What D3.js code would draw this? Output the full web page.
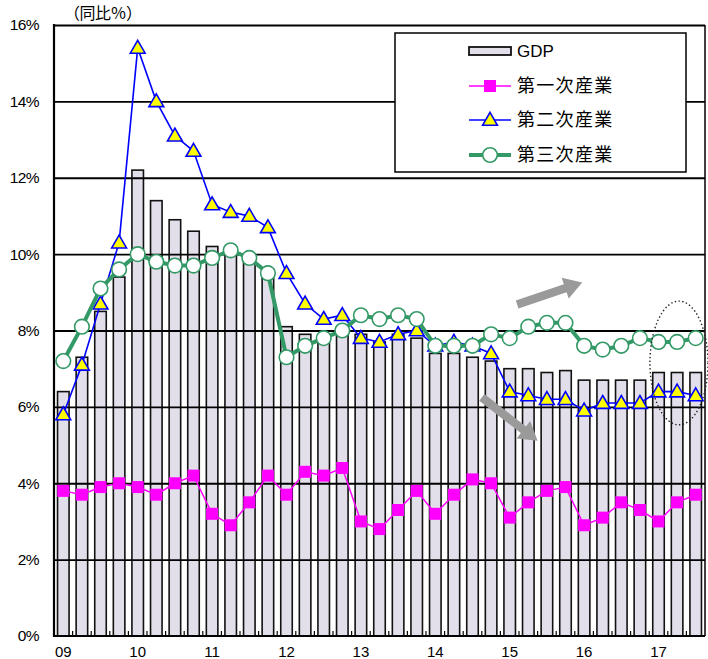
<!DOCTYPE html>
<html><head><meta charset="utf-8">
<script src="https://cdn.jsdelivr.net/npm/d3@7"></script>
<style>body{margin:0;background:#fff;overflow:hidden}</style>
</head><body><svg id="c" width="708" height="659"></svg>
<script>
const categories = ["09Q1","09Q2","09Q3","09Q4","10Q1","10Q2","10Q3","10Q4","11Q1","11Q2","11Q3","11Q4",
  "12Q1","12Q2","12Q3","12Q4","13Q1","13Q2","13Q3","13Q4","14Q1","14Q2","14Q3","14Q4",
  "15Q1","15Q2","15Q3","15Q4","16Q1","16Q2","16Q3","16Q4","17Q1","17Q2","17Q3"];
const yearTicks = ["09Q1","10Q1","11Q1","12Q1","13Q1","14Q1","15Q1","16Q1","17Q1"];
const yearLabels = ["09","10","11","12","13","14","15","16","17"];
const yTicks = [0,2,4,6,8,10,12,14,16];
const gdp = [6.4,7.3,8.5,9.4, 12.2,11.4,10.9,10.6, 10.2,10.1,10.0,9.6, 8.1,7.9,7.8,7.9, 7.9,7.7,7.9,7.8, 7.4,7.4,7.3,7.2, 7.0,7.0,6.9,6.95, 6.7,6.7,6.7,6.7, 6.9,6.9,6.9];
const primary = [3.8,3.7,3.9,4.0, 3.9,3.7,4.0,4.2, 3.2,2.9,3.5,4.2, 3.7,4.3,4.2,4.4, 3.0,2.8,3.3,3.8, 3.2,3.7,4.1,4.0, 3.1,3.5,3.8,3.9, 2.9,3.1,3.5,3.3, 3.0,3.5,3.7];
const secondary = [5.8,7.1,8.7,10.3, 15.4,14.0,13.1,12.7, 11.3,11.1,11.0,10.7, 9.5,8.7,8.3,8.4, 7.8,7.7,7.9,8.0, 7.6,7.7,7.6,7.4, 6.4,6.3,6.2,6.2, 5.9,6.1,6.1,6.1, 6.4,6.4,6.3];
const tertiary = [7.2,8.1,9.1,9.6, 10.0,9.8,9.7,9.7, 9.9,10.1,9.9,9.5, 7.3,7.6,7.8,8.0, 8.4,8.3,8.4,8.3, 7.6,7.6,7.6,7.9, 7.8,8.1,8.2,8.2, 7.6,7.5,7.6,7.8, 7.7,7.7,7.8];
const seriesNames = ["GDP","第一次産業","第二次産業","第三次産業"];
const unitLabel = ["（","同","比","％","）"];

const svg = d3.select("#c");
const L = 54, R = 705, T = 25, B = 636;
const x = d3.scaleBand().domain(categories).range([L, R]).paddingInner(0.38).paddingOuter(0.19);
const y = d3.scaleLinear().domain([0, 16]).range([B, T]);
const cx = c => x(c) + x.bandwidth() / 2;
const xi = i => L + x.step() * (i + 0.5);

const BAR = "#e3dfea", PINK = "#ff00ff", BLUE = "#0000ff", YEL = "#ffff00", GREEN = "#339966";
const numFont = "'Liberation Sans', Arial, sans-serif";
const cjkFont = "'Noto Sans CJK JP', 'Noto Sans', sans-serif";

// bars
svg.append("g").selectAll("rect").data(gdp).join("rect")
  .attr("x", (d, i) => x(categories[i]))
  .attr("y", d => y(d))
  .attr("width", x.bandwidth())
  .attr("height", d => y(0) - y(d))
  .attr("fill", BAR).attr("stroke", "#111").attr("stroke-width", 1.6);

// gridlines (drawn over bars as in reference)
svg.append("g").attr("transform", `translate(${L},0)`)
  .call(d3.axisRight(y).tickValues(yTicks.filter(v => v > 0)).tickSize(R - L).tickFormat(""))
  .call(g => g.select(".domain").remove())
  .call(g => g.selectAll("line").attr("stroke", "#000").attr("stroke-width", 1.8));

// frame
svg.append("line").attr("x1", R).attr("x2", R).attr("y1", T).attr("y2", B).attr("stroke", "#000").attr("stroke-width", 1.5);
svg.append("line").attr("x1", L).attr("x2", L).attr("y1", T - 1).attr("y2", B + 1).attr("stroke", "#000").attr("stroke-width", 2.2);
svg.append("line").attr("x1", L).attr("x2", R).attr("y1", B).attr("y2", B).attr("stroke", "#000").attr("stroke-width", 2.2);

// small category ticks at band boundaries
svg.append("g").selectAll("line").data(d3.range(1, categories.length)).join("line")
  .attr("x1", i => L + x.step() * i).attr("x2", i => L + x.step() * i)
  .attr("y1", B).attr("y2", B - 5).attr("stroke", "#000").attr("stroke-width", 1.2);

// y-axis labels
svg.append("g").attr("transform", `translate(${L},0)`)
  .call(d3.axisLeft(y).tickValues(yTicks).tickSize(0).tickPadding(15).tickFormat(d => d + "%"))
  .call(g => g.select(".domain").remove())
  .call(g => g.selectAll("text").attr("font-family", numFont).attr("font-size", 15.5)
      .attr("letter-spacing", "-0.6px").attr("fill", "#000"));

// x-axis year labels (kept fully inside the canvas)
svg.append("g").attr("transform", `translate(0,${B})`)
  .call(d3.axisBottom(x).tickValues(yearTicks).tickSize(0).tickPadding(10)
      .tickFormat(d => yearLabels[yearTicks.indexOf(d)]))
  .call(g => g.select(".domain").remove())
  .call(g => g.selectAll("text").attr("font-family", numFont).attr("font-size", 15).attr("fill", "#000"));

// unit label (full-width characters, laid out on a fixed pitch)
svg.append("g").selectAll("text").data(unitLabel).join("text")
  .attr("x", (d, i) => 72 + i * 15.5).attr("y", 19).attr("text-anchor", "middle").text(d => d)
  .attr("font-family", cjkFont).attr("font-size", 16).attr("fill", "#000");

// primary
const line = d3.line().x((d, i) => cx(categories[i])).y(d => y(d));
svg.append("path").datum(primary).attr("d", line).attr("fill", "none").attr("stroke", PINK).attr("stroke-width", 1.5);
svg.append("g").selectAll("rect").data(primary).join("rect")
  .attr("x", (d, i) => cx(categories[i]) - 6).attr("y", d => y(d) - 6)
  .attr("width", 12).attr("height", 12).attr("fill", PINK);

// secondary
const tri = d3.symbol().type(d3.symbolTriangle).size(95);
svg.append("path").datum(secondary).attr("d", line).attr("fill", "none").attr("stroke", BLUE).attr("stroke-width", 1.6);
svg.append("g").selectAll("path").data(secondary).join("path")
  .attr("d", tri).attr("transform", (d, i) => `translate(${cx(categories[i])},${y(d) + 1})`)
  .attr("fill", YEL).attr("stroke", BLUE).attr("stroke-width", 1.6);

// tertiary
svg.append("path").datum(tertiary).attr("d", line).attr("fill", "none").attr("stroke", GREEN).attr("stroke-width", 4);
svg.append("g").selectAll("circle").data(tertiary).join("circle")
  .attr("cx", (d, i) => cx(categories[i])).attr("cy", d => y(d)).attr("r", 7.3)
  .attr("fill", "#fff").attr("stroke", GREEN).attr("stroke-width", 1.6);

// annotations: arrows and dotted ellipse (in data coordinates)
const arrows = [
  {from: [24.4, 8.68], to: [27.9, 9.26]},
  {from: [22.5, 6.25], to: [25.5, 5.11]}
];
arrows.forEach(a => {
  const x0 = xi(a.from[0]), y0 = y(a.from[1]), x1 = xi(a.to[0]), y1 = y(a.to[1]);
  const dx = x1 - x0, dy = y1 - y0, len = Math.hypot(dx, dy);
  const ux = dx / len, uy = dy / len, px = -uy, py = ux;
  const sw = 4.2, hw = 11, hl = 18;
  const bx = x1 - ux * hl, by = y1 - uy * hl;
  const pts = [
    [x0 + px * sw, y0 + py * sw], [bx + px * sw, by + py * sw], [bx + px * hw, by + py * hw],
    [x1, y1], [bx - px * hw, by - py * hw], [bx - px * sw, by - py * sw], [x0 - px * sw, y0 - py * sw]
  ];
  svg.append("path").attr("d", "M" + pts.map(p => p.join(",")).join("L") + "Z").attr("fill", "#9a9a9a");
});
const ell = {c: [33.1, 7.15], rx: 1.56, ry: 1.62};
svg.append("ellipse").attr("cx", xi(ell.c[0])).attr("cy", y(ell.c[1]))
  .attr("rx", x.step() * ell.rx).attr("ry", y(0) - y(ell.ry))
  .attr("fill", "none").attr("stroke", "#222").attr("stroke-width", 1.4).attr("stroke-dasharray", "1.4,2.4");

// legend
const lg = svg.append("g");
lg.append("rect").attr("x", 395).attr("y", 33).attr("width", 291).attr("height", 139)
  .attr("fill", "#fff").attr("stroke", "#000").attr("stroke-width", 1.5);
const rows = [51, 86, 120, 155];
const sx0 = 469, sx1 = 511, smid = 490, tx = 517;
lg.append("rect").attr("x", sx0).attr("y", rows[0] - 4).attr("width", sx1 - sx0).attr("height", 8)
  .attr("fill", BAR).attr("stroke", "#111").attr("stroke-width", 1.8);
lg.append("line").attr("x1", sx0).attr("x2", sx1).attr("y1", rows[1]).attr("y2", rows[1]).attr("stroke", PINK).attr("stroke-width", 1.5);
lg.append("rect").attr("x", smid - 6).attr("y", rows[1] - 6).attr("width", 12).attr("height", 12).attr("fill", PINK);
lg.append("line").attr("x1", sx0).attr("x2", sx1).attr("y1", rows[2]).attr("y2", rows[2]).attr("stroke", BLUE).attr("stroke-width", 1.6);
lg.append("path").attr("d", tri).attr("transform", `translate(${smid},${rows[2] + 1})`).attr("fill", YEL).attr("stroke", BLUE).attr("stroke-width", 1.6);
lg.append("line").attr("x1", sx0).attr("x2", sx1).attr("y1", rows[3]).attr("y2", rows[3]).attr("stroke", GREEN).attr("stroke-width", 4);
lg.append("circle").attr("cx", smid).attr("cy", rows[3]).attr("r", 7.3).attr("fill", "#fff").attr("stroke", GREEN).attr("stroke-width", 1.6);
seriesNames.forEach((n, i) => {
  const t = lg.append("text").attr("x", tx).attr("y", rows[i]).attr("dy", "0.36em").text(n).attr("fill", "#000");
  if (i === 0) t.attr("font-family", numFont).attr("font-size", 17);
  else t.attr("font-family", cjkFont).attr("font-size", 18).attr("letter-spacing", "1.3px");
});
</script></body></html>
